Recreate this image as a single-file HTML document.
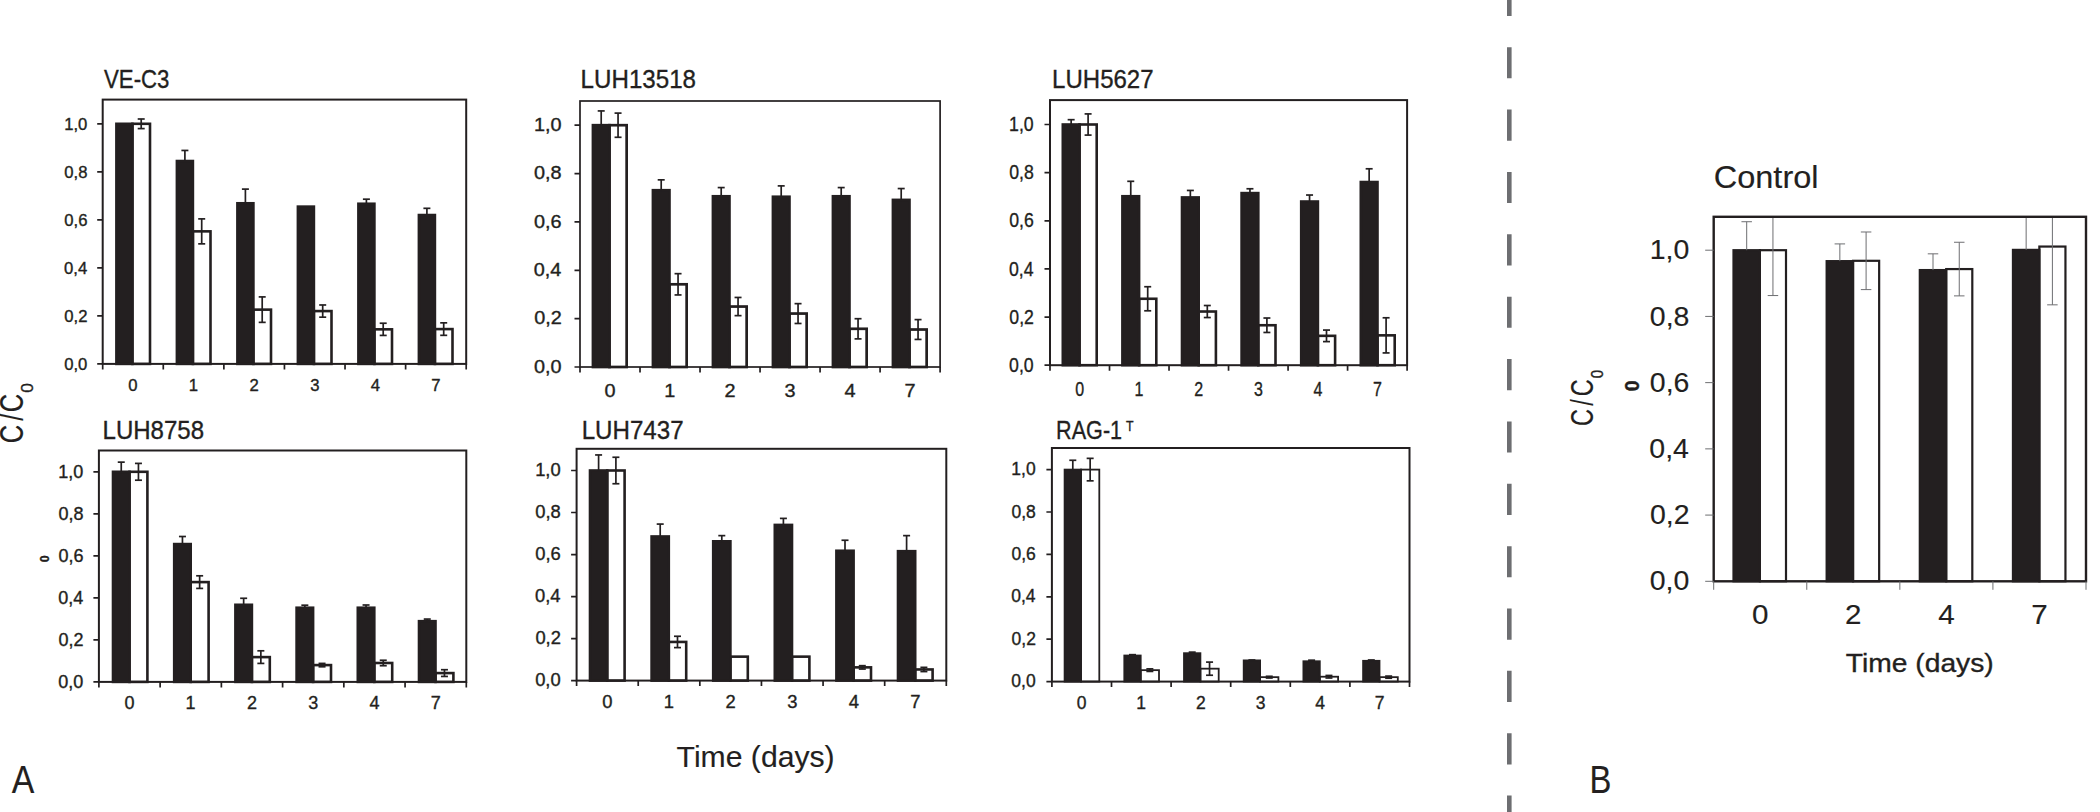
<!DOCTYPE html>
<html lang="en"><head><meta charset="utf-8"><title>Figure</title>
<style>
html,body{margin:0;padding:0;background:#fff;}
body{width:2100px;height:812px;overflow:hidden;}
svg{display:block;font-family:"Liberation Sans",sans-serif;}
text{stroke:#231f20;stroke-width:0.35px;}
text.big{stroke-width:0.15px;}
</style></head><body>
<svg width="2100" height="812" viewBox="0 0 2100 812">
<rect width="2100" height="812" fill="#fff"/>
<g id="chart-ve-c3">
<rect x="132.40" y="123.80" width="17.60" height="240.10" fill="#fff" stroke="#231f20" stroke-width="2.6"/>
<rect x="116.40" y="123.80" width="16.00" height="240.10" fill="#231f20" stroke="#231f20" stroke-width="2.6"/>
<path d="M141.20 119.00V128.60" stroke="#231f20" stroke-width="1.7" fill="none"/>
<path d="M137.70 119.00H144.70" stroke="#231f20" stroke-width="1.7" fill="none"/>
<path d="M137.70 128.60H144.70" stroke="#231f20" stroke-width="1.7" fill="none"/>
<rect x="192.90" y="231.36" width="17.60" height="132.54" fill="#fff" stroke="#231f20" stroke-width="2.6"/>
<rect x="176.90" y="161.02" width="16.00" height="202.88" fill="#231f20" stroke="#231f20" stroke-width="2.6"/>
<path d="M184.90 161.02V150.45" stroke="#231f20" stroke-width="1.7" fill="none"/>
<path d="M181.40 150.45H188.40" stroke="#231f20" stroke-width="1.7" fill="none"/>
<path d="M201.70 218.88V243.85" stroke="#231f20" stroke-width="1.7" fill="none"/>
<path d="M198.20 218.88H205.20" stroke="#231f20" stroke-width="1.7" fill="none"/>
<path d="M198.20 243.85H205.20" stroke="#231f20" stroke-width="1.7" fill="none"/>
<rect x="253.40" y="309.64" width="17.60" height="54.26" fill="#fff" stroke="#231f20" stroke-width="2.6"/>
<rect x="237.40" y="203.27" width="16.00" height="160.63" fill="#231f20" stroke="#231f20" stroke-width="2.6"/>
<path d="M245.40 203.27V189.11" stroke="#231f20" stroke-width="1.7" fill="none"/>
<path d="M241.90 189.11H248.90" stroke="#231f20" stroke-width="1.7" fill="none"/>
<path d="M262.20 296.91V322.36" stroke="#231f20" stroke-width="1.7" fill="none"/>
<path d="M258.70 296.91H265.70" stroke="#231f20" stroke-width="1.7" fill="none"/>
<path d="M258.70 322.36H265.70" stroke="#231f20" stroke-width="1.7" fill="none"/>
<rect x="313.90" y="311.08" width="17.60" height="52.82" fill="#fff" stroke="#231f20" stroke-width="2.6"/>
<rect x="297.90" y="206.63" width="16.00" height="157.27" fill="#231f20" stroke="#231f20" stroke-width="2.6"/>
<path d="M322.70 304.98V317.18" stroke="#231f20" stroke-width="1.7" fill="none"/>
<path d="M319.20 304.98H326.20" stroke="#231f20" stroke-width="1.7" fill="none"/>
<path d="M319.20 317.18H326.20" stroke="#231f20" stroke-width="1.7" fill="none"/>
<rect x="374.40" y="329.33" width="17.60" height="34.57" fill="#fff" stroke="#231f20" stroke-width="2.6"/>
<rect x="358.40" y="203.75" width="16.00" height="160.15" fill="#231f20" stroke="#231f20" stroke-width="2.6"/>
<path d="M366.40 203.75V199.19" stroke="#231f20" stroke-width="1.7" fill="none"/>
<path d="M362.90 199.19H369.90" stroke="#231f20" stroke-width="1.7" fill="none"/>
<path d="M383.20 323.23V335.42" stroke="#231f20" stroke-width="1.7" fill="none"/>
<path d="M379.70 323.23H386.70" stroke="#231f20" stroke-width="1.7" fill="none"/>
<path d="M379.70 335.42H386.70" stroke="#231f20" stroke-width="1.7" fill="none"/>
<rect x="434.90" y="329.09" width="17.60" height="34.81" fill="#fff" stroke="#231f20" stroke-width="2.6"/>
<rect x="418.90" y="215.04" width="16.00" height="148.86" fill="#231f20" stroke="#231f20" stroke-width="2.6"/>
<path d="M426.90 215.04V208.32" stroke="#231f20" stroke-width="1.7" fill="none"/>
<path d="M423.40 208.32H430.40" stroke="#231f20" stroke-width="1.7" fill="none"/>
<path d="M443.70 322.84V335.33" stroke="#231f20" stroke-width="1.7" fill="none"/>
<path d="M440.20 322.84H447.20" stroke="#231f20" stroke-width="1.7" fill="none"/>
<path d="M440.20 335.33H447.20" stroke="#231f20" stroke-width="1.7" fill="none"/>
<rect x="102.70" y="99.60" width="363.50" height="264.30" fill="none" stroke="#231f20" stroke-width="2.0"/>
<path d="M97.20 363.90H102.70M97.20 315.88H102.70M97.20 267.86H102.70M97.20 219.84H102.70M97.20 171.82H102.70M97.20 123.80H102.70M102.70 363.90V369.40M163.28 363.90V369.40M223.87 363.90V369.40M284.45 363.90V369.40M345.03 363.90V369.40M405.62 363.90V369.40M466.20 363.90V369.40" stroke="#231f20" stroke-width="1.7" fill="none"/>
<text transform="translate(64.13,369.90) scale(1.0300,1)" font-size="16.20" fill="#231f20">0,0</text>
<text transform="translate(64.34,321.88) scale(1.0300,1)" font-size="16.20" fill="#231f20">0,2</text>
<text transform="translate(63.97,273.86) scale(1.0300,1)" font-size="16.20" fill="#231f20">0,4</text>
<text transform="translate(64.22,225.84) scale(1.0300,1)" font-size="16.20" fill="#231f20">0,6</text>
<text transform="translate(64.22,177.82) scale(1.0300,1)" font-size="16.20" fill="#231f20">0,8</text>
<text transform="translate(64.13,129.80) scale(1.0300,1)" font-size="16.20" fill="#231f20">1,0</text>
<text transform="translate(128.34,390.50) scale(1.0300,1)" font-size="16.20" fill="#231f20">0</text>
<text transform="translate(188.72,390.50) scale(1.0300,1)" font-size="16.20" fill="#231f20">1</text>
<text transform="translate(249.53,390.50) scale(1.0300,1)" font-size="16.20" fill="#231f20">2</text>
<text transform="translate(310.15,390.50) scale(1.0300,1)" font-size="16.20" fill="#231f20">3</text>
<text transform="translate(370.74,390.50) scale(1.0300,1)" font-size="16.20" fill="#231f20">4</text>
<text transform="translate(431.26,390.50) scale(1.0300,1)" font-size="16.20" fill="#231f20">7</text>
<text transform="translate(103.99,88.00) scale(0.8759,1)" font-size="25.38" fill="#231f20">VE-C3</text>
</g>
<g id="chart-luh13518">
<rect x="609.45" y="125.20" width="17.20" height="241.80" fill="#fff" stroke="#231f20" stroke-width="2.7"/>
<rect x="592.95" y="125.20" width="16.50" height="241.80" fill="#231f20" stroke="#231f20" stroke-width="2.7"/>
<path d="M601.20 125.20V110.93" stroke="#231f20" stroke-width="1.7" fill="none"/>
<path d="M597.70 110.93H604.70" stroke="#231f20" stroke-width="1.7" fill="none"/>
<path d="M618.05 113.11V137.29" stroke="#231f20" stroke-width="1.7" fill="none"/>
<path d="M614.55 113.11H621.55" stroke="#231f20" stroke-width="1.7" fill="none"/>
<path d="M614.55 137.29H621.55" stroke="#231f20" stroke-width="1.7" fill="none"/>
<rect x="669.45" y="284.30" width="17.20" height="82.70" fill="#fff" stroke="#231f20" stroke-width="2.7"/>
<rect x="652.95" y="190.24" width="16.50" height="176.76" fill="#231f20" stroke="#231f20" stroke-width="2.7"/>
<path d="M661.20 190.24V179.85" stroke="#231f20" stroke-width="1.7" fill="none"/>
<path d="M657.70 179.85H664.70" stroke="#231f20" stroke-width="1.7" fill="none"/>
<path d="M678.05 273.67V294.94" stroke="#231f20" stroke-width="1.7" fill="none"/>
<path d="M674.55 273.67H681.55" stroke="#231f20" stroke-width="1.7" fill="none"/>
<path d="M674.55 294.94H681.55" stroke="#231f20" stroke-width="1.7" fill="none"/>
<rect x="729.45" y="306.55" width="17.20" height="60.45" fill="#fff" stroke="#231f20" stroke-width="2.7"/>
<rect x="712.95" y="196.29" width="16.50" height="170.71" fill="#231f20" stroke="#231f20" stroke-width="2.7"/>
<path d="M721.20 196.29V187.58" stroke="#231f20" stroke-width="1.7" fill="none"/>
<path d="M717.70 187.58H724.70" stroke="#231f20" stroke-width="1.7" fill="none"/>
<path d="M738.05 297.46V315.64" stroke="#231f20" stroke-width="1.7" fill="none"/>
<path d="M734.55 297.46H741.55" stroke="#231f20" stroke-width="1.7" fill="none"/>
<path d="M734.55 315.64H741.55" stroke="#231f20" stroke-width="1.7" fill="none"/>
<rect x="789.45" y="313.56" width="17.20" height="53.44" fill="#fff" stroke="#231f20" stroke-width="2.7"/>
<rect x="772.95" y="196.77" width="16.50" height="170.23" fill="#231f20" stroke="#231f20" stroke-width="2.7"/>
<path d="M781.20 196.77V185.89" stroke="#231f20" stroke-width="1.7" fill="none"/>
<path d="M777.70 185.89H784.70" stroke="#231f20" stroke-width="1.7" fill="none"/>
<path d="M798.05 303.65V323.48" stroke="#231f20" stroke-width="1.7" fill="none"/>
<path d="M794.55 303.65H801.55" stroke="#231f20" stroke-width="1.7" fill="none"/>
<path d="M794.55 323.48H801.55" stroke="#231f20" stroke-width="1.7" fill="none"/>
<rect x="849.45" y="328.80" width="17.20" height="38.20" fill="#fff" stroke="#231f20" stroke-width="2.7"/>
<rect x="832.95" y="196.29" width="16.50" height="170.71" fill="#231f20" stroke="#231f20" stroke-width="2.7"/>
<path d="M841.20 196.29V187.58" stroke="#231f20" stroke-width="1.7" fill="none"/>
<path d="M837.70 187.58H844.70" stroke="#231f20" stroke-width="1.7" fill="none"/>
<path d="M858.05 318.71V338.88" stroke="#231f20" stroke-width="1.7" fill="none"/>
<path d="M854.55 318.71H861.55" stroke="#231f20" stroke-width="1.7" fill="none"/>
<path d="M854.55 338.88H861.55" stroke="#231f20" stroke-width="1.7" fill="none"/>
<rect x="909.45" y="329.52" width="17.20" height="37.48" fill="#fff" stroke="#231f20" stroke-width="2.7"/>
<rect x="892.95" y="199.92" width="16.50" height="167.08" fill="#231f20" stroke="#231f20" stroke-width="2.7"/>
<path d="M901.20 199.92V188.55" stroke="#231f20" stroke-width="1.7" fill="none"/>
<path d="M897.70 188.55H904.70" stroke="#231f20" stroke-width="1.7" fill="none"/>
<path d="M918.05 319.61V339.43" stroke="#231f20" stroke-width="1.7" fill="none"/>
<path d="M914.55 319.61H921.55" stroke="#231f20" stroke-width="1.7" fill="none"/>
<path d="M914.55 339.43H921.55" stroke="#231f20" stroke-width="1.7" fill="none"/>
<rect x="580.00" y="101.00" width="360.10" height="266.00" fill="none" stroke="#231f20" stroke-width="1.7"/>
<path d="M574.50 367.00H580.00M574.50 318.64H580.00M574.50 270.28H580.00M574.50 221.92H580.00M574.50 173.56H580.00M574.50 125.20H580.00M580.00 367.00V372.50M640.02 367.00V372.50M700.03 367.00V372.50M760.05 367.00V372.50M820.07 367.00V372.50M880.08 367.00V372.50M940.10 367.00V372.50" stroke="#231f20" stroke-width="1.7" fill="none"/>
<text transform="translate(533.93,372.80) scale(1.1100,1)" font-size="17.90" fill="#231f20">0,0</text>
<text transform="translate(534.18,324.44) scale(1.1100,1)" font-size="17.90" fill="#231f20">0,2</text>
<text transform="translate(533.73,276.08) scale(1.1100,1)" font-size="17.90" fill="#231f20">0,4</text>
<text transform="translate(534.03,227.72) scale(1.1100,1)" font-size="17.90" fill="#231f20">0,6</text>
<text transform="translate(534.03,179.36) scale(1.1100,1)" font-size="17.90" fill="#231f20">0,8</text>
<text transform="translate(533.93,131.00) scale(1.1100,1)" font-size="17.90" fill="#231f20">1,0</text>
<text transform="translate(604.47,396.80) scale(1.1100,1)" font-size="17.90" fill="#231f20">0</text>
<text transform="translate(664.24,396.80) scale(1.1100,1)" font-size="17.90" fill="#231f20">1</text>
<text transform="translate(724.53,396.80) scale(1.1100,1)" font-size="17.90" fill="#231f20">2</text>
<text transform="translate(784.59,396.80) scale(1.1100,1)" font-size="17.90" fill="#231f20">3</text>
<text transform="translate(844.61,396.80) scale(1.1100,1)" font-size="17.90" fill="#231f20">4</text>
<text transform="translate(904.55,396.80) scale(1.1100,1)" font-size="17.90" fill="#231f20">7</text>
<text transform="translate(580.61,87.80) scale(0.9515,1)" font-size="25.38" fill="#231f20">LUH13518</text>
</g>
<g id="chart-luh5627">
<rect x="1079.50" y="124.50" width="17.20" height="240.70" fill="#fff" stroke="#231f20" stroke-width="2.6"/>
<rect x="1062.80" y="124.50" width="16.70" height="240.70" fill="#231f20" stroke="#231f20" stroke-width="2.6"/>
<path d="M1071.15 124.50V119.69" stroke="#231f20" stroke-width="1.7" fill="none"/>
<path d="M1067.65 119.69H1074.65" stroke="#231f20" stroke-width="1.7" fill="none"/>
<path d="M1088.10 113.91V135.09" stroke="#231f20" stroke-width="1.7" fill="none"/>
<path d="M1084.60 113.91H1091.60" stroke="#231f20" stroke-width="1.7" fill="none"/>
<path d="M1084.60 135.09H1091.60" stroke="#231f20" stroke-width="1.7" fill="none"/>
<rect x="1139.10" y="298.77" width="17.20" height="66.43" fill="#fff" stroke="#231f20" stroke-width="2.6"/>
<rect x="1122.40" y="196.23" width="16.70" height="168.97" fill="#231f20" stroke="#231f20" stroke-width="2.6"/>
<path d="M1130.75 196.23V181.31" stroke="#231f20" stroke-width="1.7" fill="none"/>
<path d="M1127.25 181.31H1134.25" stroke="#231f20" stroke-width="1.7" fill="none"/>
<path d="M1147.70 286.73V310.80" stroke="#231f20" stroke-width="1.7" fill="none"/>
<path d="M1144.20 286.73H1151.20" stroke="#231f20" stroke-width="1.7" fill="none"/>
<path d="M1144.20 310.80H1151.20" stroke="#231f20" stroke-width="1.7" fill="none"/>
<rect x="1198.70" y="311.52" width="17.20" height="53.68" fill="#fff" stroke="#231f20" stroke-width="2.6"/>
<rect x="1182.00" y="197.43" width="16.70" height="167.77" fill="#231f20" stroke="#231f20" stroke-width="2.6"/>
<path d="M1190.35 197.43V190.45" stroke="#231f20" stroke-width="1.7" fill="none"/>
<path d="M1186.85 190.45H1193.85" stroke="#231f20" stroke-width="1.7" fill="none"/>
<path d="M1207.30 305.51V317.54" stroke="#231f20" stroke-width="1.7" fill="none"/>
<path d="M1203.80 305.51H1210.80" stroke="#231f20" stroke-width="1.7" fill="none"/>
<path d="M1203.80 317.54H1210.80" stroke="#231f20" stroke-width="1.7" fill="none"/>
<rect x="1258.30" y="325.24" width="17.20" height="39.96" fill="#fff" stroke="#231f20" stroke-width="2.6"/>
<rect x="1241.60" y="193.10" width="16.70" height="172.10" fill="#231f20" stroke="#231f20" stroke-width="2.6"/>
<path d="M1249.95 193.10V188.77" stroke="#231f20" stroke-width="1.7" fill="none"/>
<path d="M1246.45 188.77H1253.45" stroke="#231f20" stroke-width="1.7" fill="none"/>
<path d="M1266.90 318.02V332.46" stroke="#231f20" stroke-width="1.7" fill="none"/>
<path d="M1263.40 318.02H1270.40" stroke="#231f20" stroke-width="1.7" fill="none"/>
<path d="M1263.40 332.46H1270.40" stroke="#231f20" stroke-width="1.7" fill="none"/>
<rect x="1317.90" y="335.83" width="17.20" height="29.37" fill="#fff" stroke="#231f20" stroke-width="2.6"/>
<rect x="1301.20" y="201.52" width="16.70" height="163.68" fill="#231f20" stroke="#231f20" stroke-width="2.6"/>
<path d="M1309.55 201.52V195.03" stroke="#231f20" stroke-width="1.7" fill="none"/>
<path d="M1306.05 195.03H1313.05" stroke="#231f20" stroke-width="1.7" fill="none"/>
<path d="M1326.50 330.06V341.61" stroke="#231f20" stroke-width="1.7" fill="none"/>
<path d="M1323.00 330.06H1330.00" stroke="#231f20" stroke-width="1.7" fill="none"/>
<path d="M1323.00 341.61H1330.00" stroke="#231f20" stroke-width="1.7" fill="none"/>
<rect x="1377.50" y="335.35" width="17.20" height="29.85" fill="#fff" stroke="#231f20" stroke-width="2.6"/>
<rect x="1360.80" y="182.03" width="16.70" height="183.17" fill="#231f20" stroke="#231f20" stroke-width="2.6"/>
<path d="M1369.15 182.03V168.79" stroke="#231f20" stroke-width="1.7" fill="none"/>
<path d="M1365.65 168.79H1372.65" stroke="#231f20" stroke-width="1.7" fill="none"/>
<path d="M1386.10 317.78V352.92" stroke="#231f20" stroke-width="1.7" fill="none"/>
<path d="M1382.60 317.78H1389.60" stroke="#231f20" stroke-width="1.7" fill="none"/>
<path d="M1382.60 352.92H1389.60" stroke="#231f20" stroke-width="1.7" fill="none"/>
<rect x="1050.00" y="100.10" width="357.10" height="265.10" fill="none" stroke="#231f20" stroke-width="2.0"/>
<path d="M1044.50 365.20H1050.00M1044.50 317.06H1050.00M1044.50 268.92H1050.00M1044.50 220.78H1050.00M1044.50 172.64H1050.00M1044.50 124.50H1050.00M1050.00 365.20V370.70M1109.52 365.20V370.70M1169.03 365.20V370.70M1228.55 365.20V370.70M1288.07 365.20V370.70M1347.58 365.20V370.70M1407.10 365.20V370.70" stroke="#231f20" stroke-width="1.7" fill="none"/>
<text transform="translate(1009.09,371.80) scale(0.8500,1)" font-size="20.80" fill="#231f20">0,0</text>
<text transform="translate(1009.31,323.66) scale(0.8500,1)" font-size="20.80" fill="#231f20">0,2</text>
<text transform="translate(1008.91,275.52) scale(0.8500,1)" font-size="20.80" fill="#231f20">0,4</text>
<text transform="translate(1009.18,227.38) scale(0.8500,1)" font-size="20.80" fill="#231f20">0,6</text>
<text transform="translate(1009.18,179.24) scale(0.8500,1)" font-size="20.80" fill="#231f20">0,8</text>
<text transform="translate(1009.09,131.10) scale(0.8500,1)" font-size="20.80" fill="#231f20">1,0</text>
<text transform="translate(1075.30,396.20) scale(0.8000,1)" font-size="20.00" fill="#231f20">0</text>
<text transform="translate(1134.62,396.20) scale(0.8000,1)" font-size="20.00" fill="#231f20">1</text>
<text transform="translate(1194.35,396.20) scale(0.8000,1)" font-size="20.00" fill="#231f20">2</text>
<text transform="translate(1253.91,396.20) scale(0.8000,1)" font-size="20.00" fill="#231f20">3</text>
<text transform="translate(1313.42,396.20) scale(0.8000,1)" font-size="20.00" fill="#231f20">4</text>
<text transform="translate(1372.88,396.20) scale(0.8000,1)" font-size="20.00" fill="#231f20">7</text>
<text transform="translate(1052.12,88.00) scale(0.9465,1)" font-size="25.38" fill="#231f20">LUH5627</text>
</g>
<g id="chart-luh8758">
<rect x="129.50" y="471.80" width="17.90" height="210.10" fill="#fff" stroke="#231f20" stroke-width="2.6"/>
<rect x="113.00" y="471.80" width="16.50" height="210.10" fill="#231f20" stroke="#231f20" stroke-width="2.6"/>
<path d="M121.25 471.80V462.14" stroke="#231f20" stroke-width="1.7" fill="none"/>
<path d="M117.75 462.14H124.75" stroke="#231f20" stroke-width="1.7" fill="none"/>
<path d="M138.45 463.40V480.20" stroke="#231f20" stroke-width="1.7" fill="none"/>
<path d="M134.95 463.40H141.95" stroke="#231f20" stroke-width="1.7" fill="none"/>
<path d="M134.95 480.20H141.95" stroke="#231f20" stroke-width="1.7" fill="none"/>
<rect x="190.70" y="582.10" width="17.90" height="99.80" fill="#fff" stroke="#231f20" stroke-width="2.6"/>
<rect x="174.20" y="544.07" width="16.50" height="137.83" fill="#231f20" stroke="#231f20" stroke-width="2.6"/>
<path d="M182.45 544.07V536.51" stroke="#231f20" stroke-width="1.7" fill="none"/>
<path d="M178.95 536.51H185.95" stroke="#231f20" stroke-width="1.7" fill="none"/>
<path d="M199.65 575.80V588.41" stroke="#231f20" stroke-width="1.7" fill="none"/>
<path d="M196.15 575.80H203.15" stroke="#231f20" stroke-width="1.7" fill="none"/>
<path d="M196.15 588.41H203.15" stroke="#231f20" stroke-width="1.7" fill="none"/>
<rect x="251.90" y="657.11" width="17.90" height="24.79" fill="#fff" stroke="#231f20" stroke-width="2.6"/>
<rect x="235.40" y="604.79" width="16.50" height="77.11" fill="#231f20" stroke="#231f20" stroke-width="2.6"/>
<path d="M243.65 604.79V598.28" stroke="#231f20" stroke-width="1.7" fill="none"/>
<path d="M240.15 598.28H247.15" stroke="#231f20" stroke-width="1.7" fill="none"/>
<path d="M260.85 650.81V663.41" stroke="#231f20" stroke-width="1.7" fill="none"/>
<path d="M257.35 650.81H264.35" stroke="#231f20" stroke-width="1.7" fill="none"/>
<path d="M257.35 663.41H264.35" stroke="#231f20" stroke-width="1.7" fill="none"/>
<rect x="313.10" y="665.09" width="17.90" height="16.81" fill="#fff" stroke="#231f20" stroke-width="2.6"/>
<rect x="296.60" y="607.73" width="16.50" height="74.17" fill="#231f20" stroke="#231f20" stroke-width="2.6"/>
<path d="M304.85 607.73V605.21" stroke="#231f20" stroke-width="1.7" fill="none"/>
<path d="M301.35 605.21H308.35" stroke="#231f20" stroke-width="1.7" fill="none"/>
<path d="M322.05 663.41V666.77" stroke="#231f20" stroke-width="1.7" fill="none"/>
<path d="M318.55 663.41H325.55" stroke="#231f20" stroke-width="1.7" fill="none"/>
<path d="M318.55 666.77H325.55" stroke="#231f20" stroke-width="1.7" fill="none"/>
<rect x="374.30" y="662.99" width="17.90" height="18.91" fill="#fff" stroke="#231f20" stroke-width="2.6"/>
<rect x="357.80" y="607.73" width="16.50" height="74.17" fill="#231f20" stroke="#231f20" stroke-width="2.6"/>
<path d="M366.05 607.73V605.00" stroke="#231f20" stroke-width="1.7" fill="none"/>
<path d="M362.55 605.00H369.55" stroke="#231f20" stroke-width="1.7" fill="none"/>
<path d="M383.25 660.26V665.72" stroke="#231f20" stroke-width="1.7" fill="none"/>
<path d="M379.75 660.26H386.75" stroke="#231f20" stroke-width="1.7" fill="none"/>
<path d="M379.75 665.72H386.75" stroke="#231f20" stroke-width="1.7" fill="none"/>
<rect x="435.50" y="673.08" width="17.90" height="8.82" fill="#fff" stroke="#231f20" stroke-width="2.6"/>
<rect x="419.00" y="621.18" width="16.50" height="60.72" fill="#231f20" stroke="#231f20" stroke-width="2.6"/>
<path d="M427.25 621.18V619.08" stroke="#231f20" stroke-width="1.7" fill="none"/>
<path d="M423.75 619.08H430.75" stroke="#231f20" stroke-width="1.7" fill="none"/>
<path d="M444.45 669.71V676.44" stroke="#231f20" stroke-width="1.7" fill="none"/>
<path d="M440.95 669.71H447.95" stroke="#231f20" stroke-width="1.7" fill="none"/>
<path d="M440.95 676.44H447.95" stroke="#231f20" stroke-width="1.7" fill="none"/>
<rect x="98.90" y="450.50" width="367.40" height="231.40" fill="none" stroke="#231f20" stroke-width="2.0"/>
<path d="M93.40 681.90H98.90M93.40 639.88H98.90M93.40 597.86H98.90M93.40 555.84H98.90M93.40 513.82H98.90M93.40 471.80H98.90M98.90 681.90V687.40M160.13 681.90V687.40M221.37 681.90V687.40M282.60 681.90V687.40M343.83 681.90V687.40M405.07 681.90V687.40M466.30 681.90V687.40" stroke="#231f20" stroke-width="1.7" fill="none"/>
<text transform="translate(58.32,687.90) scale(1.0300,1)" font-size="17.50" fill="#231f20">0,0</text>
<text transform="translate(58.55,645.88) scale(1.0300,1)" font-size="17.50" fill="#231f20">0,2</text>
<text transform="translate(58.14,603.86) scale(1.0300,1)" font-size="17.50" fill="#231f20">0,4</text>
<text transform="translate(58.41,561.84) scale(1.0300,1)" font-size="17.50" fill="#231f20">0,6</text>
<text transform="translate(58.41,519.82) scale(1.0300,1)" font-size="17.50" fill="#231f20">0,8</text>
<text transform="translate(58.32,477.80) scale(1.0300,1)" font-size="17.50" fill="#231f20">1,0</text>
<text transform="translate(124.49,709.00) scale(1.0300,1)" font-size="17.50" fill="#231f20">0</text>
<text transform="translate(185.50,709.00) scale(1.0300,1)" font-size="17.50" fill="#231f20">1</text>
<text transform="translate(246.98,709.00) scale(1.0300,1)" font-size="17.50" fill="#231f20">2</text>
<text transform="translate(308.26,709.00) scale(1.0300,1)" font-size="17.50" fill="#231f20">3</text>
<text transform="translate(369.49,709.00) scale(1.0300,1)" font-size="17.50" fill="#231f20">4</text>
<text transform="translate(430.66,709.00) scale(1.0300,1)" font-size="17.50" fill="#231f20">7</text>
<text transform="translate(102.52,439.20) scale(0.9371,1)" font-size="25.66" fill="#231f20">LUH8758</text>
</g>
<g id="chart-luh7437">
<rect x="607.20" y="470.50" width="17.40" height="210.10" fill="#fff" stroke="#231f20" stroke-width="2.6"/>
<rect x="590.00" y="470.50" width="17.20" height="210.10" fill="#231f20" stroke="#231f20" stroke-width="2.6"/>
<path d="M598.60 470.50V454.95" stroke="#231f20" stroke-width="1.7" fill="none"/>
<path d="M595.10 454.95H602.10" stroke="#231f20" stroke-width="1.7" fill="none"/>
<path d="M615.90 457.26V483.74" stroke="#231f20" stroke-width="1.7" fill="none"/>
<path d="M612.40 457.26H619.40" stroke="#231f20" stroke-width="1.7" fill="none"/>
<path d="M612.40 483.74H619.40" stroke="#231f20" stroke-width="1.7" fill="none"/>
<rect x="668.80" y="641.94" width="17.40" height="38.66" fill="#fff" stroke="#231f20" stroke-width="2.6"/>
<rect x="651.60" y="536.47" width="17.20" height="144.13" fill="#231f20" stroke="#231f20" stroke-width="2.6"/>
<path d="M660.20 536.47V524.08" stroke="#231f20" stroke-width="1.7" fill="none"/>
<path d="M656.70 524.08H663.70" stroke="#231f20" stroke-width="1.7" fill="none"/>
<path d="M677.50 636.27V647.61" stroke="#231f20" stroke-width="1.7" fill="none"/>
<path d="M674.00 636.27H681.00" stroke="#231f20" stroke-width="1.7" fill="none"/>
<path d="M674.00 647.61H681.00" stroke="#231f20" stroke-width="1.7" fill="none"/>
<rect x="730.40" y="656.65" width="17.40" height="23.95" fill="#fff" stroke="#231f20" stroke-width="2.6"/>
<rect x="713.20" y="541.30" width="17.20" height="139.30" fill="#231f20" stroke="#231f20" stroke-width="2.6"/>
<path d="M721.80 541.30V535.63" stroke="#231f20" stroke-width="1.7" fill="none"/>
<path d="M718.30 535.63H725.30" stroke="#231f20" stroke-width="1.7" fill="none"/>
<rect x="792.00" y="656.65" width="17.40" height="23.95" fill="#fff" stroke="#231f20" stroke-width="2.6"/>
<rect x="774.80" y="524.92" width="17.20" height="155.68" fill="#231f20" stroke="#231f20" stroke-width="2.6"/>
<path d="M783.40 524.92V518.40" stroke="#231f20" stroke-width="1.7" fill="none"/>
<path d="M779.90 518.40H786.90" stroke="#231f20" stroke-width="1.7" fill="none"/>
<rect x="853.60" y="667.36" width="17.40" height="13.24" fill="#fff" stroke="#231f20" stroke-width="2.6"/>
<rect x="836.40" y="550.76" width="17.20" height="129.84" fill="#231f20" stroke="#231f20" stroke-width="2.6"/>
<path d="M845.00 550.76V540.25" stroke="#231f20" stroke-width="1.7" fill="none"/>
<path d="M841.50 540.25H848.50" stroke="#231f20" stroke-width="1.7" fill="none"/>
<path d="M862.30 665.68V669.04" stroke="#231f20" stroke-width="1.7" fill="none"/>
<path d="M858.80 665.68H865.80" stroke="#231f20" stroke-width="1.7" fill="none"/>
<path d="M858.80 669.04H865.80" stroke="#231f20" stroke-width="1.7" fill="none"/>
<rect x="915.20" y="669.46" width="17.40" height="11.14" fill="#fff" stroke="#231f20" stroke-width="2.6"/>
<rect x="898.00" y="551.18" width="17.20" height="129.42" fill="#231f20" stroke="#231f20" stroke-width="2.6"/>
<path d="M906.60 551.18V535.63" stroke="#231f20" stroke-width="1.7" fill="none"/>
<path d="M903.10 535.63H910.10" stroke="#231f20" stroke-width="1.7" fill="none"/>
<path d="M923.90 667.36V671.57" stroke="#231f20" stroke-width="1.7" fill="none"/>
<path d="M920.40 667.36H927.40" stroke="#231f20" stroke-width="1.7" fill="none"/>
<path d="M920.40 671.57H927.40" stroke="#231f20" stroke-width="1.7" fill="none"/>
<rect x="576.60" y="448.80" width="369.70" height="231.80" fill="none" stroke="#231f20" stroke-width="2.0"/>
<path d="M571.10 680.60H576.60M571.10 638.58H576.60M571.10 596.56H576.60M571.10 554.54H576.60M571.10 512.52H576.60M571.10 470.50H576.60M576.60 680.60V686.10M638.22 680.60V686.10M699.83 680.60V686.10M761.45 680.60V686.10M823.07 680.60V686.10M884.68 680.60V686.10M946.30 680.60V686.10" stroke="#231f20" stroke-width="1.7" fill="none"/>
<text transform="translate(535.15,685.80) scale(1.0500,1)" font-size="17.50" fill="#231f20">0,0</text>
<text transform="translate(535.38,643.78) scale(1.0500,1)" font-size="17.50" fill="#231f20">0,2</text>
<text transform="translate(534.96,601.76) scale(1.0500,1)" font-size="17.50" fill="#231f20">0,4</text>
<text transform="translate(535.24,559.74) scale(1.0500,1)" font-size="17.50" fill="#231f20">0,6</text>
<text transform="translate(535.24,517.72) scale(1.0500,1)" font-size="17.50" fill="#231f20">0,8</text>
<text transform="translate(535.15,475.70) scale(1.0500,1)" font-size="17.50" fill="#231f20">1,0</text>
<text transform="translate(602.29,708.00) scale(1.0500,1)" font-size="17.50" fill="#231f20">0</text>
<text transform="translate(663.67,708.00) scale(1.0500,1)" font-size="17.50" fill="#231f20">1</text>
<text transform="translate(725.54,708.00) scale(1.0500,1)" font-size="17.50" fill="#231f20">2</text>
<text transform="translate(787.21,708.00) scale(1.0500,1)" font-size="17.50" fill="#231f20">3</text>
<text transform="translate(848.82,708.00) scale(1.0500,1)" font-size="17.50" fill="#231f20">4</text>
<text transform="translate(910.37,708.00) scale(1.0500,1)" font-size="17.50" fill="#231f20">7</text>
<text transform="translate(581.71,439.30) scale(0.9345,1)" font-size="25.81" fill="#231f20">LUH7437</text>
</g>
<g id="chart-rag-1">
<rect x="1081.00" y="469.60" width="18.30" height="212.00" fill="#fff" stroke="#231f20" stroke-width="1.8"/>
<rect x="1064.60" y="469.60" width="16.40" height="212.00" fill="#231f20" stroke="#231f20" stroke-width="1.8"/>
<path d="M1072.80 469.60V460.27" stroke="#231f20" stroke-width="1.7" fill="none"/>
<path d="M1069.30 460.27H1076.30" stroke="#231f20" stroke-width="1.7" fill="none"/>
<path d="M1090.15 458.36V480.84" stroke="#231f20" stroke-width="1.7" fill="none"/>
<path d="M1086.65 458.36H1093.65" stroke="#231f20" stroke-width="1.7" fill="none"/>
<path d="M1086.65 480.84H1093.65" stroke="#231f20" stroke-width="1.7" fill="none"/>
<rect x="1140.70" y="670.15" width="18.30" height="11.45" fill="#fff" stroke="#231f20" stroke-width="1.8"/>
<rect x="1124.30" y="655.52" width="16.40" height="26.08" fill="#231f20" stroke="#231f20" stroke-width="1.8"/>
<path d="M1132.50 655.52V654.68" stroke="#231f20" stroke-width="1.7" fill="none"/>
<path d="M1129.00 654.68H1136.00" stroke="#231f20" stroke-width="1.7" fill="none"/>
<path d="M1149.85 668.88V671.42" stroke="#231f20" stroke-width="1.7" fill="none"/>
<path d="M1146.35 668.88H1153.35" stroke="#231f20" stroke-width="1.7" fill="none"/>
<path d="M1146.35 671.42H1153.35" stroke="#231f20" stroke-width="1.7" fill="none"/>
<rect x="1200.40" y="668.67" width="18.30" height="12.93" fill="#fff" stroke="#231f20" stroke-width="1.8"/>
<rect x="1184.00" y="653.19" width="16.40" height="28.41" fill="#231f20" stroke="#231f20" stroke-width="1.8"/>
<path d="M1192.20 653.19V652.13" stroke="#231f20" stroke-width="1.7" fill="none"/>
<path d="M1188.70 652.13H1195.70" stroke="#231f20" stroke-width="1.7" fill="none"/>
<path d="M1209.55 662.10V675.24" stroke="#231f20" stroke-width="1.7" fill="none"/>
<path d="M1206.05 662.10H1213.05" stroke="#231f20" stroke-width="1.7" fill="none"/>
<path d="M1206.05 675.24H1213.05" stroke="#231f20" stroke-width="1.7" fill="none"/>
<rect x="1260.10" y="677.15" width="18.30" height="4.45" fill="#fff" stroke="#231f20" stroke-width="1.8"/>
<rect x="1243.70" y="660.40" width="16.40" height="21.20" fill="#231f20" stroke="#231f20" stroke-width="1.8"/>
<path d="M1251.90 660.40V659.98" stroke="#231f20" stroke-width="1.7" fill="none"/>
<path d="M1248.40 659.98H1255.40" stroke="#231f20" stroke-width="1.7" fill="none"/>
<path d="M1269.25 676.30V678.00" stroke="#231f20" stroke-width="1.7" fill="none"/>
<path d="M1265.75 676.30H1272.75" stroke="#231f20" stroke-width="1.7" fill="none"/>
<path d="M1265.75 678.00H1272.75" stroke="#231f20" stroke-width="1.7" fill="none"/>
<rect x="1319.80" y="676.72" width="18.30" height="4.88" fill="#fff" stroke="#231f20" stroke-width="1.8"/>
<rect x="1303.40" y="661.25" width="16.40" height="20.35" fill="#231f20" stroke="#231f20" stroke-width="1.8"/>
<path d="M1311.60 661.25V660.19" stroke="#231f20" stroke-width="1.7" fill="none"/>
<path d="M1308.10 660.19H1315.10" stroke="#231f20" stroke-width="1.7" fill="none"/>
<path d="M1328.95 675.45V678.00" stroke="#231f20" stroke-width="1.7" fill="none"/>
<path d="M1325.45 675.45H1332.45" stroke="#231f20" stroke-width="1.7" fill="none"/>
<path d="M1325.45 678.00H1332.45" stroke="#231f20" stroke-width="1.7" fill="none"/>
<rect x="1379.50" y="677.15" width="18.30" height="4.45" fill="#fff" stroke="#231f20" stroke-width="1.8"/>
<rect x="1363.10" y="660.82" width="16.40" height="20.78" fill="#231f20" stroke="#231f20" stroke-width="1.8"/>
<path d="M1371.30 660.82V659.98" stroke="#231f20" stroke-width="1.7" fill="none"/>
<path d="M1367.80 659.98H1374.80" stroke="#231f20" stroke-width="1.7" fill="none"/>
<path d="M1388.65 676.09V678.21" stroke="#231f20" stroke-width="1.7" fill="none"/>
<path d="M1385.15 676.09H1392.15" stroke="#231f20" stroke-width="1.7" fill="none"/>
<path d="M1385.15 678.21H1392.15" stroke="#231f20" stroke-width="1.7" fill="none"/>
<rect x="1051.90" y="448.00" width="357.60" height="233.60" fill="none" stroke="#231f20" stroke-width="2.0"/>
<path d="M1046.40 681.60H1051.90M1046.40 639.20H1051.90M1046.40 596.80H1051.90M1046.40 554.40H1051.90M1046.40 512.00H1051.90M1046.40 469.60H1051.90M1051.90 681.60V687.10M1111.50 681.60V687.10M1171.10 681.60V687.10M1230.70 681.60V687.10M1290.30 681.60V687.10M1349.90 681.60V687.10M1409.50 681.60V687.10" stroke="#231f20" stroke-width="1.7" fill="none"/>
<text transform="translate(1011.33,687.20) scale(1.0000,1)" font-size="17.50" fill="#231f20">0,0</text>
<text transform="translate(1011.55,644.80) scale(1.0000,1)" font-size="17.50" fill="#231f20">0,2</text>
<text transform="translate(1011.16,602.40) scale(1.0000,1)" font-size="17.50" fill="#231f20">0,4</text>
<text transform="translate(1011.42,560.00) scale(1.0000,1)" font-size="17.50" fill="#231f20">0,6</text>
<text transform="translate(1011.42,517.60) scale(1.0000,1)" font-size="17.50" fill="#231f20">0,8</text>
<text transform="translate(1011.33,475.20) scale(1.0000,1)" font-size="17.50" fill="#231f20">1,0</text>
<text transform="translate(1076.82,709.00) scale(1.0000,1)" font-size="17.50" fill="#231f20">0</text>
<text transform="translate(1136.20,709.00) scale(1.0000,1)" font-size="17.50" fill="#231f20">1</text>
<text transform="translate(1196.04,709.00) scale(1.0000,1)" font-size="17.50" fill="#231f20">2</text>
<text transform="translate(1255.69,709.00) scale(1.0000,1)" font-size="17.50" fill="#231f20">3</text>
<text transform="translate(1315.29,709.00) scale(1.0000,1)" font-size="17.50" fill="#231f20">4</text>
<text transform="translate(1374.82,709.00) scale(1.0000,1)" font-size="17.50" fill="#231f20">7</text>
<text transform="translate(1056.12,439.30) scale(0.8419,1)" font-size="25.66" fill="#231f20">RAG-1<tspan font-size="14.69" dx="4.60" dy="-8.80">T</tspan></text>
</g>
<g id="chart-control">
<rect x="1759.90" y="250.20" width="26.10" height="331.10" fill="#fff" stroke="#231f20" stroke-width="2.2"/>
<rect x="1733.50" y="250.20" width="26.40" height="331.10" fill="#231f20" stroke="#231f20" stroke-width="2.2"/>
<path d="M1746.70 250.20V221.73" stroke="#6d6e71" stroke-width="1.0" fill="none"/>
<path d="M1741.45 221.73H1751.95" stroke="#6d6e71" stroke-width="1.0" fill="none"/>
<path d="M1772.95 216.80V295.56" stroke="#6d6e71" stroke-width="1.0" fill="none"/>
<path d="M1767.70 295.56H1778.20" stroke="#6d6e71" stroke-width="1.0" fill="none"/>
<rect x="1853.05" y="260.80" width="26.10" height="320.50" fill="#fff" stroke="#231f20" stroke-width="2.2"/>
<rect x="1826.65" y="261.13" width="26.40" height="320.17" fill="#231f20" stroke="#231f20" stroke-width="2.2"/>
<path d="M1839.85 261.13V243.91" stroke="#6d6e71" stroke-width="1.0" fill="none"/>
<path d="M1834.60 243.91H1845.10" stroke="#6d6e71" stroke-width="1.0" fill="none"/>
<path d="M1866.10 231.99V289.60" stroke="#6d6e71" stroke-width="1.0" fill="none"/>
<path d="M1860.85 231.99H1871.35" stroke="#6d6e71" stroke-width="1.0" fill="none"/>
<path d="M1860.85 289.60H1871.35" stroke="#6d6e71" stroke-width="1.0" fill="none"/>
<rect x="1946.20" y="269.07" width="26.10" height="312.23" fill="#fff" stroke="#231f20" stroke-width="2.2"/>
<rect x="1919.80" y="270.07" width="26.40" height="311.23" fill="#231f20" stroke="#231f20" stroke-width="2.2"/>
<path d="M1933.00 270.07V253.84" stroke="#6d6e71" stroke-width="1.0" fill="none"/>
<path d="M1927.75 253.84H1938.25" stroke="#6d6e71" stroke-width="1.0" fill="none"/>
<path d="M1959.25 242.25V295.89" stroke="#6d6e71" stroke-width="1.0" fill="none"/>
<path d="M1954.00 242.25H1964.50" stroke="#6d6e71" stroke-width="1.0" fill="none"/>
<path d="M1954.00 295.89H1964.50" stroke="#6d6e71" stroke-width="1.0" fill="none"/>
<rect x="2039.35" y="246.56" width="26.10" height="334.74" fill="#fff" stroke="#231f20" stroke-width="2.2"/>
<rect x="2012.95" y="249.87" width="26.40" height="331.43" fill="#231f20" stroke="#231f20" stroke-width="2.2"/>
<path d="M2026.15 249.87V216.80" stroke="#6d6e71" stroke-width="1.0" fill="none"/>
<path d="M2052.40 216.80V304.83" stroke="#6d6e71" stroke-width="1.0" fill="none"/>
<path d="M2047.15 304.83H2057.65" stroke="#6d6e71" stroke-width="1.0" fill="none"/>
<rect x="1713.70" y="216.80" width="372.30" height="364.50" fill="none" stroke="#231f20" stroke-width="2.4"/>
<path d="M1705.20 581.30H1713.70M1705.20 515.08H1713.70M1705.20 448.86H1713.70M1705.20 382.64H1713.70M1705.20 316.42H1713.70M1705.20 250.20H1713.70M1713.70 581.30V589.80M1806.78 581.30V589.80M1899.85 581.30V589.80M1992.92 581.30V589.80M2086.00 581.30V589.80" stroke="#6d6e71" stroke-width="1.0" fill="none"/>
<text transform="translate(1649.66,590.40) scale(1.0400,1)" font-size="27.40" class="big" fill="#231f20">0,0</text>
<text transform="translate(1650.02,524.18) scale(1.0400,1)" font-size="27.40" class="big" fill="#231f20">0,2</text>
<text transform="translate(1649.37,457.96) scale(1.0400,1)" font-size="27.40" class="big" fill="#231f20">0,4</text>
<text transform="translate(1649.80,391.74) scale(1.0400,1)" font-size="27.40" class="big" fill="#231f20">0,6</text>
<text transform="translate(1649.80,325.52) scale(1.0400,1)" font-size="27.40" class="big" fill="#231f20">0,8</text>
<text transform="translate(1649.66,259.30) scale(1.0400,1)" font-size="27.40" class="big" fill="#231f20">1,0</text>
<text transform="translate(1751.99,624.20) scale(1.0800,1)" font-size="27.40" class="big" fill="#231f20">0</text>
<text transform="translate(1845.10,624.20) scale(1.0800,1)" font-size="27.40" class="big" fill="#231f20">2</text>
<text transform="translate(1938.25,624.20) scale(1.0800,1)" font-size="27.40" class="big" fill="#231f20">4</text>
<text transform="translate(2031.21,624.20) scale(1.0800,1)" font-size="27.40" class="big" fill="#231f20">7</text>
<text transform="translate(1713.67,187.60) scale(1.0186,1)" font-size="31.97" class="big" fill="#231f20">Control</text>
</g>
<path d="M1509.3 -15.2V830" stroke="#6d6e71" stroke-width="4.6" stroke-dasharray="31.2 31.17" fill="none"/>
<text transform="translate(676.62,767.10) scale(1.0311,1)" font-size="29.24" class="big" fill="#231f20">Time (days)</text>
<text transform="translate(1845.86,672.30) scale(1.0604,1)" font-size="26.62" fill="#231f20">Time (days)</text>
<text transform="translate(11.72,792.90) scale(0.8739,1)" font-size="38.69" class="big" fill="#231f20">A</text>
<text transform="translate(1589.59,792.50) scale(0.8337,1)" font-size="39.42" class="big" fill="#231f20">B</text>
<text transform="translate(22.80,443.20) rotate(-90) scale(0.7530,1)" font-size="34.00" class="big" fill="#231f20">C<tspan dx="5.26">/</tspan><tspan dx="1.70">C</tspan></text>
<text transform="translate(32.80,392.69) rotate(-90) scale(1.0000,1)" font-size="17.30" fill="#231f20">0</text>
<text transform="translate(1593.00,425.90) rotate(-90) scale(0.7720,1)" font-size="30.50" class="big" fill="#231f20">C<tspan dx="4.04">/</tspan><tspan dx="3.90">C</tspan></text>
<text transform="translate(1602.70,378.31) rotate(-90) scale(0.9200,1)" font-size="16.50" fill="#231f20">0</text>
<text transform="translate(1638.80,391.28) rotate(-90) scale(1.0000,1)" font-size="19.50" font-weight="bold" fill="#231f20">0</text>
<text transform="translate(49.00,562.20) rotate(-90) scale(1.0000,1)" font-size="12.50" font-weight="bold" fill="#231f20">0</text>
</svg>
</body></html>
